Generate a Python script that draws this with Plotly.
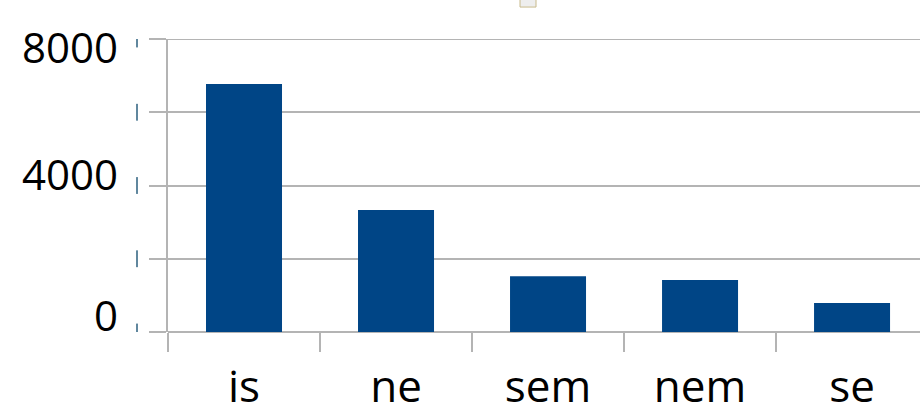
import plotly.graph_objects as go

categories = ["is", "ne", "sem", "nem", "se"]
values = [6770, 3330, 1520, 1420, 790]
y_tick_vals = [0, 2000, 4000, 6000, 8000]
y_tick_text = ["0", "", "4000", "", "8000"]
# pixel nudges (upwards) of the y labels in the source image (style only)
y_label_shift = [18, 0, 12, 0, -7]

GRID = "#b4b4b4"
BAR = "#004586"
FONT = "Open Sans"

fig = go.Figure(go.Bar(x=categories, y=values, marker=dict(color=BAR, line=dict(width=0)), width=0.5))

shapes = []
# faint cropped remnants at the left edge
for v in y_tick_vals:
    shapes.append(dict(type="line", xref="paper", yref="y", x0=-0.0412, x1=-0.0412,
                       y0=v - 230, y1=v + 230, line=dict(color="#2b5f7e", width=2), opacity=0.75))
# top gridline
shapes.append(dict(type="line", xref="paper", yref="y", x0=0, x1=1, y0=y_tick_vals[-1], y1=y_tick_vals[-1],
                   line=dict(color=GRID, width=2), layer="below"))
# small cropped box at the top
shapes.append(dict(type="rect", xref="paper", yref="paper", x0=(520 - 168) / 752, x1=(536 - 168) / 752,
                   y0=1 + 32 / 293.5, y1=1 + 40 / 293.5, fillcolor="#eeeeee",
                   line=dict(color="#c8ba8c", width=1)))

annotations = []
for v, t, s in zip(y_tick_vals, y_tick_text, y_label_shift):
    if t:
        annotations.append(dict(text=t, xref="paper", yref="y", x=-0.064, y=v, xanchor="right",
                                yanchor="middle", yshift=s, showarrow=False,
                                font=dict(family=FONT, size=42, color="#000000")))

fig.update_layout(
    width=920, height=418,
    margin=dict(l=168, r=0, t=39, b=85.5, pad=0),
    paper_bgcolor="white", plot_bgcolor="white",
    showlegend=False,
    font=dict(family=FONT, color="#000000"),
    shapes=shapes,
    annotations=annotations,
    xaxis=dict(
        type="category",
        range=[-0.5, 4.447],
        tickson="boundaries",
        automargin=False,
        ticks="outside", ticklen=19, tickwidth=2, tickcolor=GRID,
        showgrid=False, showline=False, zeroline=False,
        tickfont=dict(family=FONT, size=44, color="#000000"),
        ticklabelstandoff=25,
    ),
    yaxis=dict(
        range=[0, 8000],
        tickvals=y_tick_vals,
        showticklabels=False,
        automargin=False,
        ticks="outside", ticklen=17, tickwidth=2, tickcolor=GRID,
        showgrid=True, gridcolor=GRID, gridwidth=2,
        showline=True, linecolor=GRID, linewidth=2,
        zeroline=True, zerolinecolor=GRID, zerolinewidth=2,
    ),
)

fig.write_html("out.html")
